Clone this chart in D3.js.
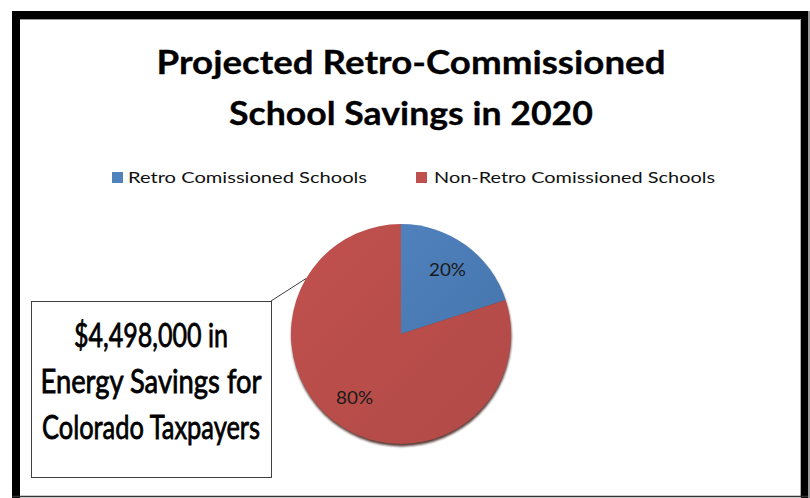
<!DOCTYPE html>
<html>
<head>
<meta charset="utf-8">
<script src="https://cdn.jsdelivr.net/npm/d3@7"></script>
<style>
  html, body { margin: 0; padding: 0; background: #fff; }
  svg { display: block; }
  text { font-family: Lato, "Open Sans", "Liberation Sans", sans-serif; }
</style>
</head>
<body>
<svg id="chart" width="810" height="498"></svg>
<script>
// Chart data
const categories = ["Retro Comissioned Schools", "Non-Retro Comissioned Schools"];
const shares = [20, 80];
const titleLines = ["Projected Retro-Commissioned", "School Savings in 2020"];
const calloutLines = ["$4,498,000 in", "Energy Savings for", "Colorado Taxpayers"];

const W = 810, H = 498;
const svg = d3.select("#chart");

const color = d3.scaleOrdinal().domain(categories).range(["#4f81bd", "#c0504d"]);
const colorDark = d3.scaleOrdinal().domain(categories).range(["#4776ad", "#b14a47"]);

// Gradients for the slices
const defs = svg.append("defs");
categories.forEach((c, i) => {
  const g = defs.append("linearGradient")
    .attr("id", "grad" + i)
    .attr("x1", "0%").attr("y1", "0%").attr("x2", "100%").attr("y2", "100%");
  g.append("stop").attr("offset", "0%").attr("stop-color", color(c));
  g.append("stop").attr("offset", "100%").attr("stop-color", colorDark(c));
});
const blur = defs.append("filter").attr("id", "shadow")
  .attr("x", "-10%").attr("y", "-10%").attr("width", "120%").attr("height", "120%");
blur.append("feGaussianBlur").attr("stdDeviation", 1.1);

// Background
svg.append("rect").attr("width", W).attr("height", H).attr("fill", "#fff");

// Heavy outer frame
const frame = svg.append("g");
frame.append("rect").attr("x", 12).attr("y", 11).attr("width", 796).attr("height", 8).attr("fill", "#000");
frame.append("rect").attr("x", 12).attr("y", 11).attr("width", 8).attr("height", 487).attr("fill", "#000");
frame.append("rect").attr("x", 801).attr("y", 11).attr("width", 7).attr("height", 487).attr("fill", "#000");
frame.append("line").attr("x1", 20).attr("x2", 801).attr("y1", 19.5).attr("y2", 19.5)
  .attr("stroke", "#9a9a9a").attr("stroke-width", 1);
frame.append("line").attr("x1", 800.5).attr("x2", 800.5).attr("y1", 19).attr("y2", 497)
  .attr("stroke", "#b0b0b0").attr("stroke-width", 1);
frame.append("line").attr("x1", 12).attr("x2", 808).attr("y1", 496.5).attr("y2", 496.5)
  .attr("stroke", "#333").attr("stroke-width", 1.5);
frame.append("rect").attr("x", 808).attr("y", 11).attr("width", 2).attr("height", 487).attr("fill", "#999");

// Title
const title = svg.append("g");
const titleWidths = [509, 364];
title.selectAll("text").data(titleLines).join("text")
  .attr("x", 411)
  .attr("y", (d, i) => 74 + i * 51)
  .attr("text-anchor", "middle")
  .attr("font-size", 32)
  .attr("font-weight", 700)
  .attr("fill", "#000")
  .attr("stroke", "#000").attr("stroke-width", 0.3)
  .attr("textLength", (d, i) => titleWidths[i])
  .attr("lengthAdjust", "spacingAndGlyphs")
  .text(d => d);

// Legend
const legendX = [112, 416];
const legendW = [239, 281];
const legend = svg.append("g").selectAll("g").data(categories).join("g")
  .attr("transform", (d, i) => `translate(${legendX[i]},172)`);
legend.append("rect").attr("width", 11).attr("height", 11).attr("fill", d => color(d));
legend.append("text")
  .attr("x", (d, i) => i === 0 ? 16 : 18)
  .attr("y", 11)
  .attr("font-size", 15.5)
  .attr("fill", "#111")
  .attr("textLength", (d, i) => legendW[i])
  .attr("lengthAdjust", "spacingAndGlyphs")
  .text(d => d);

// Pie
const cx = 401, cy = 334, r = 110;
const pie = d3.pie().sort(null).value(d => d);
const arcs = pie(shares);
const arc = d3.arc().innerRadius(0).outerRadius(r);
const labelArc = d3.arc().innerRadius(79).outerRadius(79);

const pieG = svg.append("g").attr("transform", `translate(${cx},${cy})`);
pieG.append("circle").attr("cx", 0.5).attr("cy", 2.4).attr("r", r)
  .attr("fill", "#3e1a18").attr("opacity", 0.85).attr("filter", "url(#shadow)");
pieG.selectAll("path.slice").data(arcs).join("path")
  .attr("class", "slice")
  .attr("d", arc)
  .attr("fill", (d, i) => `url(#grad${i})`);
pieG.selectAll("text.pct").data(arcs).join("text")
  .attr("class", "pct")
  .attr("transform", d => `translate(${labelArc.centroid(d)})`)
  .attr("text-anchor", "middle")
  .attr("dy", "0.36em")
  .attr("font-size", 17.5)
  .attr("fill", "#1a1a1a")
  .attr("textLength", 37)
  .attr("lengthAdjust", "spacingAndGlyphs")
  .text(d => d.data + "%");

// Callout box with leader line to the pie edge
const box = { x: 31, y: 301, w: 240, h: 176 };
const edgeAngle = Math.atan2(278 - cy, 305 - cx);
svg.append("line")
  .attr("x1", box.x + box.w).attr("y1", box.y)
  .attr("x2", cx + r * Math.cos(edgeAngle)).attr("y2", cy + r * Math.sin(edgeAngle))
  .attr("stroke", "#404040").attr("stroke-width", 1);
svg.append("rect")
  .attr("x", box.x + 0.5).attr("y", box.y + 0.5)
  .attr("width", box.w).attr("height", box.h)
  .attr("fill", "#fff").attr("stroke", "#404040").attr("stroke-width", 1);
const calloutW = [154, 221, 218];
svg.append("g").selectAll("text").data(calloutLines).join("text")
  .attr("x", box.x + box.w / 2)
  .attr("y", (d, i) => 347 + i * 46)
  .attr("text-anchor", "middle")
  .attr("font-size", 33)
  .attr("fill", "#000")
  .attr("stroke", "#000").attr("stroke-width", 0.8)
  .attr("textLength", (d, i) => calloutW[i])
  .attr("lengthAdjust", "spacingAndGlyphs")
  .text(d => d);
</script>
</body>
</html>
